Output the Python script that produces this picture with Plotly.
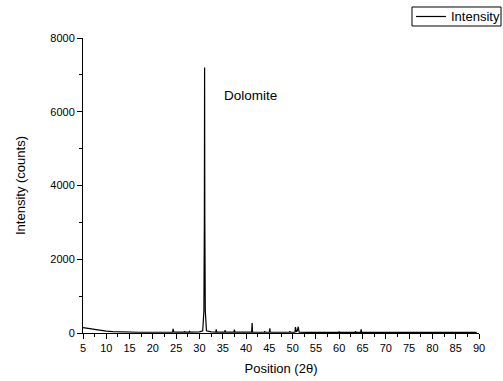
import plotly.graph_objects as go

# XRD pattern: diffraction angle (2θ, degrees) and measured counts
two_theta = [
    5.0, 6.0, 7.2, 8.5, 10.0, 11.4, 13.0, 15.1, 17.0, 19.0, 21.0, 23.0,
    24.2, 24.35, 24.5, 26.0, 26.7, 26.8, 26.9, 27.8, 27.9, 28.0, 28.9, 29.0, 29.1,
    30.0, 30.7, 30.95, 31.05, 31.1, 31.15, 31.25, 31.5, 32.5,
    33.5, 33.6, 33.7, 35.4, 35.5, 35.6, 37.4, 37.5, 37.6, 39.5,
    41.2, 41.3, 41.4, 43.9, 44.0, 44.1, 45.0, 45.1, 45.2, 47.5,
    49.3, 49.4, 49.5, 50.5, 50.6, 50.8, 51.0, 51.2, 51.4, 53.0, 56.0,
    59.9, 60.0, 60.1, 62.0, 63.4, 63.5, 63.6, 64.6, 64.7, 64.8, 67.0,
    70.4, 70.5, 70.6, 74.0, 77.2, 77.3, 77.4, 82.0, 87.9, 88.0, 88.1, 89.5,
]
counts = [
    145, 125, 95, 75, 50, 36, 28, 22, 20, 20, 20, 22,
    22, 110, 22, 24, 24, 50, 24, 25, 45, 25, 26, 45, 26,
    30, 60, 600, 3000, 7200, 3000, 600, 60, 30,
    25, 100, 25, 25, 80, 25, 25, 90, 25, 22,
    22, 270, 22, 20, 50, 20, 20, 125, 20, 20,
    20, 50, 20, 20, 160, 40, 60, 170, 20, 18, 18,
    18, 40, 18, 18, 18, 50, 18, 18, 100, 18, 18,
    16, 20, 16, 16, 16, 25, 16, 16, 16, 30, 16, 16,
]

x_ticks = list(range(5, 91, 5))
y_ticks = [0, 2000, 4000, 6000, 8000]
series_name = "Intensity"

FONT = "Liberation Sans, Arial, sans-serif"

fig = go.Figure()
fig.add_trace(go.Scatter(
    x=two_theta, y=counts, mode="lines", name=series_name,
    line=dict(color="black", width=1.2), showlegend=False,
))

fig.add_annotation(
    x=34.8, y=6450, text="Dolomite", showarrow=False,
    xanchor="left", yanchor="middle",
    font=dict(family=FONT, size=13.5, color="black"),
)

# Legend box drawn in paper space so it does not shrink the plot area
fig.add_shape(type="rect", xref="paper", yref="paper",
              x0=0.8308, x1=1.0556, y0=1.0407, y1=1.1051,
              line=dict(color="black", width=1), fillcolor="white")
fig.add_shape(type="line", xref="paper", yref="paper",
              x0=0.841, x1=0.9167, y0=1.0729, y1=1.0729,
              line=dict(color="black", width=1.2))
fig.add_annotation(xref="paper", yref="paper", x=0.9242, y=1.0729,
                   text=series_name, showarrow=False,
                   xanchor="left", yanchor="middle",
                   font=dict(family=FONT, size=13, color="black"))

fig.update_layout(
    width=503, height=381,
    margin=dict(l=83, r=24, t=38, b=48),
    paper_bgcolor="white", plot_bgcolor="white",
    font=dict(family=FONT, size=11, color="black"),
    showlegend=False,
    xaxis=dict(
        range=[5, 90], tickvals=x_ticks, ticktext=[str(v) for v in x_ticks],
        showgrid=False, zeroline=False, showline=True, linecolor="black", linewidth=1,
        ticks="outside", ticklen=5, tickwidth=1, tickcolor="black", automargin=False,
        minor=dict(dtick=2.5, tick0=2.5, ticks="outside", ticklen=3, tickcolor="black", showgrid=False),
        title=dict(text="Position (2θ)", font=dict(family=FONT, size=13), standoff=10),
    ),
    yaxis=dict(
        range=[0, 8000], tickvals=y_ticks, ticktext=[str(v) for v in y_ticks],
        showgrid=False, zeroline=False, showline=True, linecolor="black", linewidth=1,
        ticks="outside", ticklen=5, tickwidth=1, tickcolor="black", automargin=False,
        minor=dict(dtick=1000, ticks="outside", ticklen=3, tickcolor="black", showgrid=False),
        title=dict(text="Intensity (counts)", font=dict(family=FONT, size=13), standoff=21),
    ),
)

fig.write_html("out.html")
